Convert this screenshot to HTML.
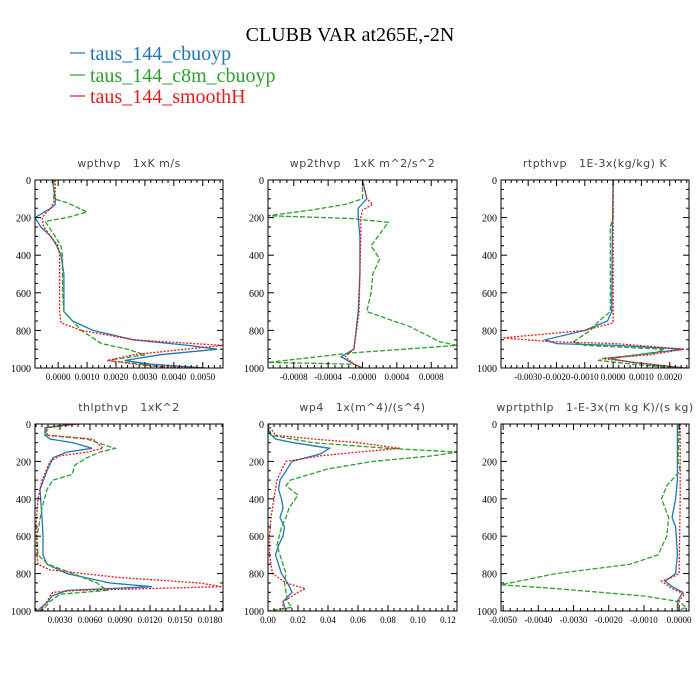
<!DOCTYPE html>
<html><head><meta charset="utf-8"><style>
body{margin:0;background:#fff}
svg{display:block}
.t{font-family:"Liberation Serif",serif}
.s{font-family:"DejaVu Sans","Liberation Sans",sans-serif}
</style></head><body>
<svg id="fig" width="700" height="700" viewBox="0 0 700 700">
<rect width="700" height="700" fill="#fff"/>
<text class="t" x="350" y="41" font-size="20" text-anchor="middle">CLUBB VAR at265E,-2N</text>
<g>
<g><line x1="70" y1="53" x2="85" y2="53" stroke="#1f77b4" stroke-width="1.2"/><text class="t" x="90" y="60" font-size="20" fill="#1f77b4">taus_144_cbuoyp</text></g>
<g><line x1="70" y1="75" x2="85" y2="75" stroke="#2ca02c" stroke-width="1.2"/><text class="t" x="90" y="82" font-size="20" fill="#2ca02c">taus_144_c8m_cbuoyp</text></g>
<g><line x1="70" y1="96" x2="85" y2="96" stroke="#e41a1c" stroke-width="1.2"/><text class="t" x="90" y="103" font-size="20" fill="#e41a1c">taus_144_smoothH</text></g>
</g>
</svg>
<script>
// ---- data ----
const yTicks=[0,200,400,600,800,1000];
const p1Title="wpthvp   1xK m/s";
const p1Range=[-0.0008,0.0057];
const p1Ticks=[0,0.001,0.002,0.003,0.004,0.005];
const p1TickLabels=["0.0000","0.0010","0.0020","0.0030","0.0040","0.0050"];
const p1BlueLev=[0,100,130,150,200,250,300,350,400,500,600,700,750,800,850,880,900,930,960,980,1000];
const p1Blue=[-0.0002,-0.0001,-0.0001,-0.00025,-0.0008,-0.0006,-0.00025,-0.00005,0.0001,0.0002,0.0002,0.0002,0.0005,0.0012,0.0026,0.0045,0.0055,0.0035,0.0023,0.0032,0.0051];
const p1RedLev=[0,100,150,170,200,250,300,350,400,500,600,700,760,800,850,880,900,930,960,990,1000];
const p1Red=[-0.0001,-0.0001,-0.00025,-0.0004,-0.00055,-0.0005,-0.00025,0,0.00005,0.00005,0.00005,0.00005,0.0001,0.0008,0.0026,0.0057,0.0044,0.0026,0.0017,0.0032,0.0049];
const p1GreenLev=[0,100,120,170,200,220,300,350,400,500,600,700,800,870,900,930,960,980,1000];
const p1Green=[-0.00015,-0.00015,0.0003,0.001,0.0003,-0.00045,-0.0001,0.0001,0.00015,0.00015,0.00015,0.0002,0.0008,0.0015,0.0024,0.003,0.0017,0.0029,0.0038];

const p2Title="wp2thvp   1xK m^2/s^2";
const p2Range=[-0.0011,0.0011];
const p2Ticks=[-0.0008,-0.0004,0,0.0004,0.0008];
const p2TickLabels=["-0.0008","-0.0004","-0.0000","0.0004","0.0008"];
const p2BlueLev=[0,100,150,200,300,500,700,900,940,980,1000];
const p2Blue=[0,0.00005,-0.00005,-0.00005,-0.00003,-0.00003,-0.00005,-0.0001,-0.00025,-0.0001,0];
const p2RedLev=[0,100,130,160,200,300,500,700,900,940,980,1000];
const p2Red=[0,0.00005,0.00012,0,-0.00002,-0.00002,-0.00003,-0.00004,-0.0001,-0.0002,-0.0001,0];
const p2GreenLev=[0,100,130,160,190,205,225,300,350,420,500,600,700,780,860,880,920,970,980,1000];
const p2Green=[0,0,-0.0002,-0.0006,-0.0011,-0.00014,0.0003,0.00018,0.0001,0.0002,0.00012,0.0001,0.00005,0.00055,0.0009,0.0011,-0.00014,-0.0011,-0.0001,0];

const p3Title="rtpthvp   1E-3x(kg/kg) K";
const p3Range=[-0.00396,0.00268];
const p3Ticks=[-0.003,-0.002,-0.001,0,0.001,0.002];
const p3TickLabels=["-0.0030","-0.0020","-0.0010","0.0000","0.0010","0.0020"];
const p3BlueLev=[0,300,700,750,800,850,870,880,900,920,950,970,1000];
const p3Blue=[0,-0.00003,-0.00005,-0.0002,-0.001,-0.0024,-0.002,0.0001,0.0025,0.0013,-0.0001,0.0007,0.0025];
const p3RedLev=[0,300,760,800,840,860,870,900,930,950,980,1000];
const p3Red=[0,0,0,-0.001,-0.0039,-0.0022,0.0001,0.0025,0.0013,-0.0004,0.0013,0.0026];
const p3GreenLev=[0,200,250,700,750,800,860,880,900,920,950,960,980,1000];
const p3Green=[0,0,-0.0001,-0.0001,-0.0005,-0.0008,-0.0014,-0.001,0.0018,0.0015,-0.0004,-0.0005,0.0007,0.0022];

const p4Title="thlpthvp   1xK^2";
const p4Range=[0.0005,0.0193];
const p4Ticks=[0.003,0.006,0.009,0.012,0.015,0.018];
const p4TickLabels=["0.0030","0.0060","0.0090","0.0120","0.0150","0.0180"];
const p4BlueLev=[0,20,60,80,100,130,150,180,250,350,500,600,700,750,800,850,870,890,920,950,1000];
const p4Blue=[0.0045,0.0015,0.0015,0.002,0.0043,0.0062,0.0037,0.0023,0.0017,0.001,0.0012,0.0013,0.0013,0.0017,0.0037,0.008,0.0122,0.0037,0.0022,0.0018,0.0007];
const p4RedLev=[0,20,60,80,100,130,150,170,200,300,400,550,700,750,780,820,850,870,890,900,920,950,1000];
const p4Red=[0.005,0.0017,0.0017,0.0063,0.0067,0.0073,0.0057,0.003,0.002,0.0012,0.0008,0.0006,0.0007,0.0008,0.002,0.0087,0.017,0.0192,0.0047,0.0023,0.002,0.0017,0.001];
const p4GreenLev=[0,20,60,80,110,130,150,180,220,270,300,350,450,600,700,750,800,850,890,910,950,1000];
const p4Green=[0.0037,0.0017,0.0015,0.0057,0.0073,0.0085,0.007,0.0057,0.0045,0.0042,0.0023,0.0017,0.0012,0.0007,0.0008,0.0018,0.0043,0.0067,0.0077,0.003,0.002,0.0012];

const p5Title="wp4   1x(m^4)/(s^4)";
const p5Range=[0,0.126];
const p5Ticks=[0,0.02,0.04,0.06,0.08,0.10,0.12];
const p5TickLabels=["0.00","0.02","0.04","0.06","0.08","0.10","0.12"];
const p5BlueLev=[0,50,80,100,130,160,200,250,300,350,400,450,500,550,600,650,700,750,800,850,900,950,1000];
const p5Blue=[0,0.001,0.005,0.017,0.041,0.035,0.016,0.012,0.008,0.007,0.009,0.01,0.008,0.011,0.01,0.007,0.005,0.007,0.009,0.013,0.016,0.01,0.012];
const p5RedLev=[0,60,80,100,130,150,170,200,230,300,400,500,600,700,800,850,880,900,950,1000];
const p5Red=[0,0.005,0.03,0.06,0.088,0.06,0.035,0.012,0.01,0.006,0.004,0.002,0.001,0.001,0.003,0.012,0.025,0.02,0.01,0.01];
const p5GreenLev=[0,60,100,130,150,170,200,240,300,330,380,450,500,550,650,750,800,850,900,950,980,1000];
const p5Green=[0,0.002,0.03,0.08,0.126,0.11,0.07,0.04,0.015,0.012,0.02,0.014,0.012,0.009,0.006,0.01,0.012,0.011,0.012,0.013,0.016,0];

const p6Title="wprtpthlp   1-E-3x(m kg K)/(s kg)";
const p6Range=[-0.00506,0.00028];
const p6Ticks=[-0.005,-0.004,-0.003,-0.002,-0.001,0];
const p6TickLabels=["-0.0050","-0.0040","-0.0030","-0.0020","-0.0010","0.0000"];
const p6BlueLev=[0,300,400,500,550,600,700,800,840,870,900,950,1000];
const p6Blue=[-0.00005,-0.00005,-0.0001,-0.0002,-0.0001,-0.00008,-0.00005,-0.0001,-0.0004,-0.0002,0.0001,-0.00005,-0.00005];
const p6RedLev=[0,400,800,820,840,880,910,950,1000];
const p6Red=[0.00003,0.00003,0,-0.0002,-0.0005,-0.0002,0.00015,-0.00002,-0.00005];
const p6GreenLev=[0,200,250,330,400,500,600,700,750,800,860,880,920,950,980,1000];
const p6Green=[0,-0.00003,0.00003,-0.00035,-0.0005,-0.0003,-0.00035,-0.0006,-0.0014,-0.0035,-0.00506,-0.0035,-0.001,0,0.0002,-0.00005];

const BLUE="#1f77b4",GREEN="#2ca02c",RED="#e41a1c";
const NS="http://www.w3.org/2000/svg";
const svg=document.getElementById('fig');
function mk(tag,attrs,parent){const e=document.createElementNS(NS,tag);for(const k in attrs)e.setAttribute(k,attrs[k]);parent.appendChild(e);return e;}

function panel(name,x0,y0,w,h,title,range,ticks,tickLabels,series){
  const g=mk('g',{},svg);
  
  
  const sx=v=>x0+(v-range[0])/(range[1]-range[0])*w;
  const sy=p=>y0+p/1000*h;
  const tt=mk('text',{x:x0+w/2,y:y0-13,'font-size':11,'text-anchor':'middle',fill:'#444','class':'s','letter-spacing':'0.5'},g);
  tt.textContent=title.replace(/ /g,'\u00a0');
  
  
  // clip
  const cid='c'+name;
  const cp=mk('clipPath',{id:cid},g);mk('rect',{x:x0,y:y0,width:w,height:h},cp);
  const sg=mk('g',{'clip-path':'url(#'+cid+')'},g);
  series.forEach(s=>{
    const d=s.lev.map((p,i)=>(i?'L':'M')+sx(s.val[i]).toFixed(1)+' '+sy(p).toFixed(1)).join(' ');
    const pa=mk('path',{d:d,fill:'none',stroke:s.c,'stroke-width':1.3},sg);
    if(s.dash)pa.setAttribute('stroke-dasharray',s.dash);
    
    
  });
  // frame
  const fr=mk('rect',{x:x0,y:y0,width:w,height:h,fill:'none',stroke:'#000','stroke-width':1},g);
  
  
  // y ticks
  for(let p=0;p<=1000;p+=50){
    const L=(p%200===0)?6:3;
    mk('line',{x1:x0,y1:sy(p),x2:x0+L,y2:sy(p),stroke:'#000'},g);
    mk('line',{x1:x0+w,y1:sy(p),x2:x0+w-L,y2:sy(p),stroke:'#000'},g);
  }
  yTicks.forEach(p=>{
    const t=mk('text',{x:x0-4,y:sy(p)+4,'font-size':10,'text-anchor':'end','class':'t'},g);
    t.textContent=p;
    
    
  });
  // x ticks: major + minor (5 per interval)
  const step=ticks[1]-ticks[0];
  for(let k=-10;k<ticks.length*5+10;k++){
    const v=ticks[0]+k*step/5;
    if(v<range[0]-1e-12||v>range[1]+1e-12)continue;
    const L=(k%5===0)?6:3;
    mk('line',{x1:sx(v),y1:y0+h,x2:sx(v),y2:y0+h-L,stroke:'#000'},g);
    mk('line',{x1:sx(v),y1:y0,x2:sx(v),y2:y0+L,stroke:'#000'},g);
  }
  ticks.forEach((v,i)=>{
    const t=mk('text',{x:sx(v),y:y0+h+12,'font-size':9,'text-anchor':'middle','class':'t'},g);
    t.textContent=tickLabels[i];
    
    
  });
}
const S=(lb,vb,lg,vg,lr,vr)=>[
 {lev:lb,val:vb,c:BLUE,n:'series-cbuoyp'},
 {lev:lg,val:vg,c:GREEN,dash:'5 2',n:'series-c8m-cbuoyp'},
 {lev:lr,val:vr,c:RED,dash:'2 1.5',n:'series-smoothh'}];
panel('panel-wpthvp',35,180,188,188,p1Title,p1Range,p1Ticks,p1TickLabels,S(p1BlueLev,p1Blue,p1GreenLev,p1Green,p1RedLev,p1Red));
panel('panel-wp2thvp',268,180,189,188,p2Title,p2Range,p2Ticks,p2TickLabels,S(p2BlueLev,p2Blue,p2GreenLev,p2Green,p2RedLev,p2Red));
panel('panel-rtpthvp',501,180,188,188,p3Title,p3Range,p3Ticks,p3TickLabels,S(p3BlueLev,p3Blue,p3GreenLev,p3Green,p3RedLev,p3Red));
panel('panel-thlpthvp',35,424,188,187,p4Title,p4Range,p4Ticks,p4TickLabels,S(p4BlueLev,p4Blue,p4GreenLev,p4Green,p4RedLev,p4Red));
panel('panel-wp4',268,424,189,187,p5Title,p5Range,p5Ticks,p5TickLabels,S(p5BlueLev,p5Blue,p5GreenLev,p5Green,p5RedLev,p5Red));
panel('panel-wprtpthlp',501,424,188,187,p6Title,p6Range,p6Ticks,p6TickLabels,S(p6BlueLev,p6Blue,p6GreenLev,p6Green,p6RedLev,p6Red));
</script>
</body></html>
